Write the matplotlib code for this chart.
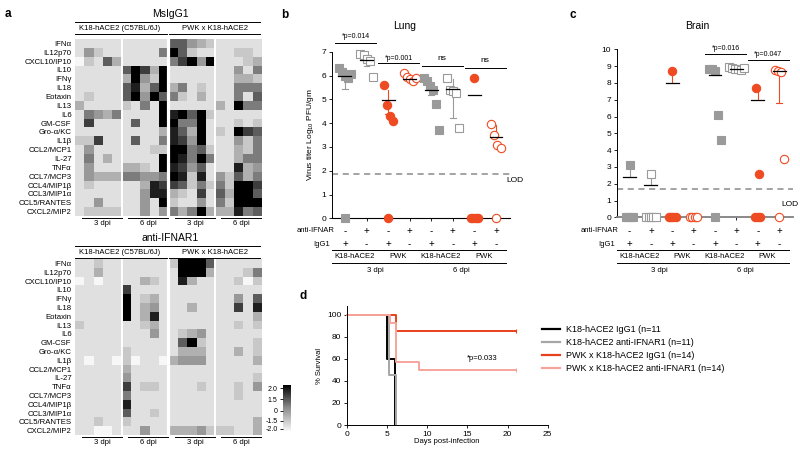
import numpy as np
import matplotlib.pyplot as plt
from matplotlib.colors import LinearSegmentedColormap
from matplotlib.lines import Line2D
from matplotlib.transforms import blended_transform_factory

plt.rcParams['font.family'] = ['Liberation Sans', 'DejaVu Sans']
plt.rcParams['mathtext.default'] = 'regular'

# ---------------- data ----------------
cytokines = ['IFN\u03b1', 'IL12p70', 'CXCL10/IP10', 'IL10', 'IFN\u03b3', 'IL18', 'Eotaxin',
             'IL13', 'IL6', 'GM-CSF', 'Gro-\u03b1/KC', 'IL1\u03b2', 'CCL2/MCP1', 'IL-27',
             'TNF\u03b1', 'CCL7/MCP3', 'CCL4/MIP1\u03b2', 'CCL3/MIP1\u03b1', 'CCL5/RANTES',
             'CXCL2/MIP2']

# grey level of each cell, 0 = white ... 9 = black (z-score -2 ... 2)
igg1_levels = [
    [1, 1, 1, 1, 1, 1, 1, 1, 1, 1, 6, 6, 4, 3, 2, 1, 1, 1, 1, 1],
    [1, 4, 2, 1, 1, 1, 1, 1, 1, 5, 9, 6, 2, 1, 1, 1, 1, 2, 2, 1],
    [0, 2, 1, 6, 3, 1, 1, 1, 1, 1, 5, 7, 9, 4, 9, 1, 1, 1, 2, 3],
    [1, 1, 1, 1, 1, 6, 9, 7, 3, 9, 1, 1, 1, 1, 1, 1, 1, 4, 1, 5],
    [1, 1, 1, 1, 1, 3, 9, 4, 2, 9, 1, 1, 1, 1, 1, 1, 1, 3, 3, 2],
    [1, 1, 1, 1, 1, 6, 8, 3, 6, 9, 3, 5, 1, 2, 1, 1, 1, 5, 5, 5],
    [1, 2, 1, 1, 1, 6, 9, 4, 9, 6, 5, 2, 1, 3, 1, 1, 1, 5, 1, 6],
    [3, 1, 1, 1, 1, 2, 1, 5, 1, 9, 1, 1, 1, 1, 1, 3, 1, 9, 5, 5],
    [1, 5, 4, 3, 5, 1, 1, 1, 1, 9, 8, 9, 6, 9, 2, 1, 1, 1, 1, 1],
    [1, 7, 1, 1, 1, 1, 6, 1, 1, 9, 9, 5, 5, 9, 1, 1, 1, 2, 1, 2],
    [1, 1, 1, 1, 1, 1, 1, 1, 1, 3, 8, 6, 3, 9, 1, 2, 1, 9, 7, 6],
    [2, 2, 7, 1, 1, 1, 6, 1, 1, 5, 8, 7, 4, 9, 1, 1, 1, 4, 2, 5],
    [1, 4, 1, 1, 1, 1, 1, 1, 2, 2, 9, 9, 5, 6, 2, 1, 1, 3, 2, 5],
    [1, 5, 1, 3, 1, 1, 1, 1, 1, 9, 9, 8, 5, 9, 5, 1, 1, 3, 5, 5],
    [1, 4, 1, 1, 1, 3, 3, 2, 1, 9, 8, 7, 4, 6, 1, 1, 1, 8, 3, 4],
    [1, 4, 3, 3, 3, 5, 5, 4, 4, 5, 9, 8, 2, 8, 1, 4, 2, 6, 3, 5],
    [1, 2, 1, 1, 1, 1, 1, 3, 8, 7, 7, 6, 2, 5, 2, 5, 2, 9, 9, 7],
    [1, 1, 1, 1, 1, 1, 1, 4, 8, 8, 3, 2, 1, 7, 1, 6, 3, 9, 9, 6],
    [1, 1, 4, 1, 1, 1, 1, 4, 1, 9, 2, 1, 1, 4, 1, 5, 2, 9, 9, 9],
    [1, 2, 2, 2, 2, 1, 1, 4, 1, 4, 5, 3, 5, 9, 3, 3, 3, 8, 5, 6],
]

ifnar_levels = [
    [1, 1, 2, 1, 1, 1, 1, 1, 1, 1, 2, 9, 9, 9, 6, 1, 1, 1, 1, 1],
    [1, 1, 3, 1, 1, 1, 1, 1, 1, 1, 1, 9, 9, 9, 3, 1, 1, 1, 2, 5],
    [0, 1, 0, 1, 1, 1, 1, 3, 2, 1, 1, 8, 3, 1, 1, 1, 1, 2, 0, 2],
    [1, 1, 1, 1, 1, 7, 1, 1, 1, 1, 1, 1, 1, 1, 1, 1, 1, 1, 1, 1],
    [1, 1, 1, 1, 1, 9, 1, 2, 3, 1, 1, 1, 1, 1, 1, 1, 1, 4, 1, 6],
    [1, 1, 1, 1, 1, 9, 1, 3, 4, 1, 1, 1, 3, 1, 1, 1, 1, 7, 1, 8],
    [1, 1, 1, 1, 1, 9, 1, 3, 8, 1, 1, 1, 1, 1, 1, 1, 1, 1, 1, 3],
    [2, 1, 1, 1, 1, 1, 1, 2, 3, 1, 1, 1, 1, 1, 1, 1, 1, 2, 1, 2],
    [1, 1, 1, 1, 1, 1, 1, 1, 4, 1, 1, 2, 3, 4, 1, 1, 1, 1, 1, 1],
    [1, 1, 1, 1, 1, 1, 1, 1, 1, 1, 1, 6, 9, 2, 1, 1, 1, 1, 1, 2],
    [1, 1, 1, 1, 1, 2, 1, 1, 1, 1, 1, 3, 3, 3, 1, 1, 1, 3, 1, 2],
    [1, 0, 1, 1, 0, 2, 0, 1, 1, 0, 3, 4, 4, 4, 1, 1, 1, 1, 1, 3],
    [1, 1, 1, 1, 1, 3, 1, 1, 1, 1, 1, 1, 1, 1, 1, 1, 1, 1, 1, 1],
    [1, 1, 1, 1, 1, 4, 1, 1, 1, 1, 1, 1, 1, 1, 1, 1, 1, 1, 1, 2],
    [1, 1, 1, 1, 1, 7, 1, 2, 2, 1, 1, 1, 1, 2, 1, 1, 1, 2, 1, 4],
    [1, 1, 1, 1, 1, 5, 1, 1, 1, 1, 1, 1, 1, 1, 1, 1, 1, 2, 1, 1],
    [1, 1, 1, 1, 1, 8, 1, 1, 1, 1, 1, 1, 1, 1, 1, 1, 1, 1, 1, 1],
    [1, 1, 1, 1, 1, 6, 1, 1, 2, 1, 1, 1, 1, 1, 1, 1, 1, 1, 1, 1],
    [1, 1, 2, 1, 1, 2, 1, 1, 1, 1, 1, 1, 1, 1, 1, 1, 1, 1, 1, 3],
    [1, 1, 0, 0, 1, 1, 1, 4, 1, 1, 3, 3, 3, 4, 2, 2, 2, 1, 1, 3],
]

strain_heads = ['K18-hACE2 (C57BL/6J)', 'PWK x K18-hACE2']
dpi_labels = ['3 dpi', '6 dpi', '3 dpi', '6 dpi']
cbar_labels = ['2.0', '1.5', '0', '-1.5', '-2.0']

# virus titers, groups: K18 IgG1, K18 aIFNAR, PWK IgG1, PWK aIFNAR (3 dpi then 6 dpi)
lung_vals = [
    [6.3, 6.15, 6.0, 5.9, 6.05, 0],
    [6.9, 6.85, 6.7, 6.6, 5.95],
    [5.6, 4.75, 4.3, 4.1, 0],
    [6.1, 5.95, 5.85, 5.75, 5.9],
    [5.9, 5.75, 5.55, 5.4, 4.8, 3.7],
    [5.9, 5.4, 5.35, 5.25, 3.8],
    [5.9, 0, 0, 0, 0],
    [3.95, 3.5, 3.1, 2.95, 0],
]
lung_mean = [6.0, 6.65, 4.95, 5.85, 5.4, 5.45, 5.2, 3.4]
lung_lo = [0.55, 0.25, 0.55, 0.1, 0.2, 1.25, 0, 0]
lung_hi = [0.3, 0.3, 0.45, 0.1, 0.3, 0.4, 0, 0.5]

brain_vals = [
    [3.1, 0, 0, 0, 0],
    [2.6, 0, 0, 0, 0, 0],
    [8.7, 0, 0, 0, 0],
    [0, 0, 0, 0],
    [8.85, 8.8, 8.7, 6.1, 4.6, 0],
    [8.95, 8.9, 8.85, 8.8, 8.75, 8.9],
    [7.7, 2.55, 0, 0, 0],
    [8.75, 8.7, 8.65, 3.45, 0],
]
brain_mean = [2.4, 1.92, 8.0, 0, 8.5, 8.85, 7.0, 8.7]
brain_lo = [0, 0, 0, 0, 0, 0, 0, 1.9]
brain_hi = [0.7, 0.7, 0.7, 0, 0.3, 0.1, 0.7, 0]

lung_lod = 1.88
brain_lod = 1.7

ifnar_signs = ['-', '+', '-', '+', '-', '+', '-', '+']
igg_signs = ['+', '-', '+', '-', '+', '-', '+', '-']
strain_names = ['K18-hACE2', 'PWK', 'K18-hACE2', 'PWK']
day_names = ['3 dpi', '6 dpi']

lung_sig = [('*p=0.014', 1, 2), ('*p=0.001', 3, 4), ('ns', 5, 6), ('ns', 7, 8)]
brain_sig = [('*p=0.016', 5, 6), ('*p=0.047', 7, 8)]

# survival curves (day, % survival)
surv_names = ['K18-hACE2 IgG1 (n=11', 'K18-hACE2 anti-IFNAR1 (n=11)',
              'PWK x K18-hACE2 IgG1 (n=14)', 'PWK x K18-hACE2 anti-IFNAR1 (n=14)']
surv_days = [[0, 5.0, 6.0], [0, 5.25, 6.15], [0, 6.1, 21], [0, 5.4, 6.1, 9.0, 21]]
surv_pct = [[100, 60, 0], [100, 45.5, 0], [100, 85.7, 85.7], [100, 92.9, 57.1, 50, 50]]
surv_colors = ['black', '#a6a6a6', '#e8401c', '#f5a59b']

# ---------------- layout helpers (pixel coordinates) ----------------
W, H = 800, 449
fig = plt.figure(figsize=(8, 4.49), dpi=100)


def rect(x0, y0, x1, y1):
    return [x0 / W, 1 - y1 / H, (x1 - x0) / W, (y1 - y0) / H]


def fy(y):
    return 1 - y / H


def ftext(x, y, s, **kw):
    kw.setdefault('ha', 'center')
    kw.setdefault('va', 'center')
    fig.text(x / W, fy(y), s, **kw)


def fline(x0, x1, y, lw=0.7, color='black'):
    fig.add_artist(Line2D([x0 / W, x1 / W], [fy(y), fy(y)], lw=lw, color=color,
                          transform=fig.transFigure))


RED = '#ef4b23'
GREY = '#9a9a9a'
cmap = LinearSegmentedColormap.from_list(
    'g', [(0, (0.97,) * 3), (1 / 9, (0.88,) * 3), (0.5, (0.55,) * 3), (1, (0, 0, 0))])

# ---------------- panel a ----------------
ftext(5, 14, 'a', fontsize=8.5, fontweight='bold', ha='left')


def heatmap(levels, y0, y1, title, ty):
    ax = fig.add_axes(rect(75, y0, 261, y1))
    z = np.array(levels) / 9 * 4 - 2
    im = ax.imshow(z, cmap=cmap, vmin=-2, vmax=2, aspect='auto', interpolation='nearest')
    for xb, lw in [(4.5, 1.4), (9.5, 2.3), (14.5, 1.4)]:
        ax.axvline(xb, color='white', lw=lw)
    ax.set_yticks(range(len(cytokines)))
    ax.set_yticklabels(cytokines, fontsize=5.6)
    ax.set_xticks([])
    ax.tick_params(axis='y', length=0, pad=2.5)
    for s in ax.spines.values():
        s.set_visible(False)
    # headers
    ftext(170, ty, title, fontsize=7.5)
    fline(75, 260, ty + 8)
    ftext(120, ty + 15, strain_heads[0], fontsize=5.5)
    ftext(215, ty + 15, strain_heads[1], fontsize=5.5)
    fline(75, 167, ty + 20)
    fline(169, 260, ty + 20)
    # bottom dpi labels
    tr = blended_transform_factory(ax.transData, fig.transFigure)
    for k, lab in enumerate(dpi_labels):
        x0 = k * 5 - 0.5
        ax.add_line(Line2D([x0 + 0.7, x0 + 5], [fy(y1 + 2)] * 2, lw=0.7, color='black',
                           transform=tr, clip_on=False))
        ax.text(x0 + 2.9, fy(y1 + 7.5), lab, transform=tr, ha='center', va='center', fontsize=5.5)
    return im


im = heatmap(igg1_levels, 39, 216, 'MsIgG1', 14)
heatmap(ifnar_levels, 259, 435, 'anti-IFNAR1', 238)

cax = fig.add_axes(rect(283, 385, 291, 431))
cb = fig.colorbar(im, cax=cax)
cb.outline.set_visible(False)
cb.set_ticks([1.73, 0.76, -0.22, -1.11, -1.82])
cb.set_ticklabels(cbar_labels)
cax.yaxis.set_ticks_position('left')
cax.tick_params(labelsize=5, length=2.5, width=0.6, pad=1.5)

# ---------------- panels b and c ----------------
kinds = [('s', True), ('s', False), ('o', True), ('o', False)] * 2


def dot_panel(ax, vals, mean, lo, hi, lod, ymax, sig, sig_y):
    for i, v in enumerate(vals):
        x = i + 1
        marker, filled = kinds[i]
        col = GREY if marker == 's' else RED
        v = np.array(v)
        nz = v[v > 0]
        zz = v[v == 0]
        ms = 5.5 if marker == 's' else 6
        for pts, spread in [(nz, 0.14), (zz, 0.11)]:
            n = len(pts)
            if n == 0:
                continue
            off = (np.arange(n) - (n - 1) / 2) * spread
            ax.plot(x + off, pts, marker, ms=ms, mfc=col if filled else 'white',
                    mec=col, mew=0.8, ls='none', clip_on=False, zorder=3)
        if mean[i] > 0:
            ax.plot([x - 0.3, x + 0.3], [mean[i]] * 2, color='black', lw=0.9, zorder=4)
            if lo[i] > 0:
                ax.plot([x, x], [mean[i] - lo[i], mean[i]], color=col, lw=0.8, zorder=2)
                ax.plot([x - 0.13, x + 0.13], [mean[i] - lo[i]] * 2, color=col, lw=0.8, zorder=2)
            if hi[i] > 0:
                ax.plot([x, x], [mean[i], mean[i] + hi[i]], color=col, lw=0.8, zorder=2)
    ax.axhline(lod, color='#8a8a8a', lw=1.1, ls=(0, (4, 3)), zorder=1)
    ax.set_xlim(0.4, 8.65)
    ax.set_ylim(0, ymax)
    ax.set_yticks(range(0, ymax + 1))
    ax.set_xticks(range(1, 9))
    ax.set_xticklabels([])
    ax.tick_params(labelsize=6, length=2.5, width=0.6, pad=1.5)
    ax.spines['top'].set_visible(False)
    ax.spines['right'].set_visible(False)
    ax.spines['left'].set_linewidth(0.7)
    ax.spines['bottom'].set_linewidth(0.8)

    tr = blended_transform_factory(ax.transData, fig.transFigure)
    for (lab, a, b), (ty, ly) in zip(sig, sig_y):
        ax.add_line(Line2D([a - 0.45, b + 0.45], [fy(ly)] * 2, lw=0.7, color='black',
                           transform=tr, clip_on=False))
        ax.text((a + b) / 2, fy(ty), lab, transform=tr, ha='center', va='center',
                fontsize=5 if lab != 'ns' else 6)
    for i in range(8):
        ax.text(i + 1, fy(231), ifnar_signs[i], transform=tr, ha='center', va='center', fontsize=7)
        ax.text(i + 1, fy(244), igg_signs[i], transform=tr, ha='center', va='center', fontsize=7)
    ax.text(0.5, fy(231), 'anti-IFNAR', transform=tr, ha='right', va='center', fontsize=5.5)
    ax.text(0.3, fy(245), 'IgG1', transform=tr, ha='right', va='center', fontsize=5.5)
    for k, name in enumerate(strain_names):
        a = 2 * k + 1
        ax.add_line(Line2D([a - 0.6, a + 1.45], [fy(250)] * 2, lw=0.7, color='black',
                           transform=tr, clip_on=False))
        ax.text(a + 0.45, fy(257), name, transform=tr, ha='center', va='center', fontsize=5.5)
    for k, name in enumerate(day_names):
        a = 4 * k + 1
        ax.add_line(Line2D([a - 0.6, a + 3.45], [fy(263)] * 2, lw=0.7, color='black',
                           transform=tr, clip_on=False))
        ax.text(a + 1.4, fy(271), name, transform=tr, ha='center', va='center', fontsize=5.5)


axb = fig.add_axes(rect(332, 51.7, 510, 218.3))
dot_panel(axb, lung_vals, lung_mean, lung_lo, lung_hi, lung_lod, 7, lung_sig,
          [(37, 43), (58, 63), (58, 66), (61, 68)])
axb.set_ylabel('Virus titer Log$_{10}$ PFU/gm', fontsize=6, labelpad=4)
axb.text(8.5, lung_lod - 0.3, 'LOD', fontsize=6, ha='left', va='center', clip_on=False)
ftext(285, 15, 'b', fontsize=8.5, fontweight='bold')
ftext(405, 26, 'Lung', fontsize=7.5)

axc = fig.add_axes(rect(616.7, 49.3, 793, 217.3))
dot_panel(axc, brain_vals, brain_mean, brain_lo, brain_hi, brain_lod, 10, brain_sig,
          [(48, 54), (54, 59.5)])
axc.spines['bottom'].set_color('#808080')
axc.spines['bottom'].set_linewidth(1.3)
ftext(799, 205, 'LOD', fontsize=6, ha='right')
ftext(573, 15, 'c', fontsize=8.5, fontweight='bold')
ftext(697, 26, 'Brain', fontsize=7.5)

# ---------------- panel d ----------------
axd = fig.add_axes(rect(346.7, 306, 547.7, 425))
for t, s, c in zip(surv_days, surv_pct, surv_colors):
    axd.step(t, s, where='post', color=c, lw=1.4, clip_on=False)
    if t[-1] > 10:
        axd.plot(t[-1], s[-1], marker='|', color=c, ms=3, mew=0.8)
axd.set_xlim(0, 25)
axd.set_ylim(0, 108)
axd.set_xticks(range(0, 26, 5))
axd.set_yticks(range(0, 101, 20))
axd.tick_params(labelsize=6, length=2.5, width=0.6, pad=1.5)
axd.spines['top'].set_visible(False)
axd.spines['right'].set_visible(False)
for s in ['left', 'bottom']:
    axd.spines[s].set_linewidth(0.7)
axd.set_xlabel('Days post-infection', fontsize=5.5, labelpad=0.5)
axd.set_ylabel('% Survival', fontsize=5.5, labelpad=3)
axd.text(16.8, 60, '*p=0.033', fontsize=5.5, ha='center', va='center')
handles = [Line2D([], [], color=c, lw=1.6) for c in surv_colors]
fig.legend(handles, surv_names, loc='upper left', bbox_to_anchor=(542 / W, fy(325)),
           frameon=False, fontsize=6.5, handlelength=2.0, handletextpad=0.7,
           labelspacing=0.45, borderaxespad=0, borderpad=0)
ftext(303, 296, 'd', fontsize=8.5, fontweight='bold')

fig.savefig('out.png', dpi=100)
